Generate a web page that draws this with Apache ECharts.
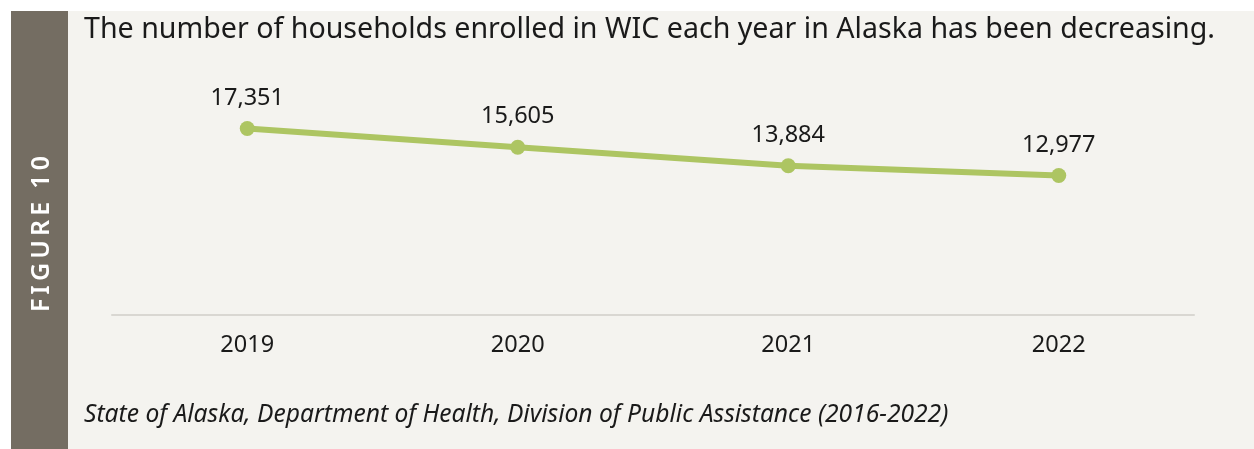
<!DOCTYPE html>
<html>
<head>
<meta charset="utf-8">
<script src="https://cdn.jsdelivr.net/npm/echarts@6/dist/echarts.min.js"></script>
<style>
html,body{margin:0;padding:0;background:#fff;}
#chart{width:1254px;height:449px;}
</style>
</head>
<body>
<div id="chart"></div>
<script>
const years = ['2019', '2020', '2021', '2022'];
const households = [17351, 15605, 13884, 12977];
const titleText = 'The number of households enrolled in WIC each year in Alaska has been decreasing.';
const sourceText = 'State of Alaska, Department of Health, Division of Public Assistance (2016-2022)';
const figureLabel = 'F\u2009I\u2009G\u2009U\u2009R\u2009E  1\u20090';

const FONT = '"Noto Sans", sans-serif';
const chart = echarts.init(document.getElementById('chart'));
chart.setOption({
  backgroundColor: '#ffffff',
  animation: false,
  graphic: [
    { type: 'rect', z: -10, shape: { x: 11, y: 11, width: 57, height: 438 }, style: { fill: '#746d62' } },
    { type: 'rect', z: -10, shape: { x: 68, y: 11, width: 1186, height: 438 }, style: { fill: '#f4f3ef' } },
    { type: 'text', x: 42, y: 234, rotation: Math.PI / 2, style: { text: figureLabel, fill: '#ffffff', font: '600 25px ' + FONT, align: 'center', verticalAlign: 'middle' } },
    { type: 'text', x: 84, y: 30, style: { text: titleText, fill: '#1a1a1a', font: '28.6px ' + FONT, verticalAlign: 'middle' } },
    { type: 'text', x: 84, y: 415, style: { text: sourceText, fill: '#1a1a1a', font: 'italic 24.6px ' + FONT, verticalAlign: 'middle' } }
  ],
  grid: { left: 112, right: 60, top: 100, bottom: 134, containLabel: false },
  xAxis: {
    type: 'category',
    data: years,
    boundaryGap: true,
    axisLine: { lineStyle: { color: '#d9d7d2', width: 2 } },
    axisTick: { show: false },
    axisLabel: { color: '#1a1a1a', fontSize: 23.5, fontFamily: FONT, margin: 18 }
  },
  yAxis: {
    type: 'value', min: 0, max: 20000,
    show: false,
    splitLine: { show: false }
  },
  series: [{
    type: 'line',
    data: households,
    symbol: 'circle',
    symbolSize: 15,
    lineStyle: { color: '#adc562', width: 6 },
    itemStyle: { color: '#adc562' },
    label: {
      show: true, position: 'top', distance: 11,
      color: '#1a1a1a', fontSize: 23.5, fontFamily: FONT,
      formatter: p => p.value.toLocaleString('en-US')
    }
  }]
});
</script>
</body>
</html>
